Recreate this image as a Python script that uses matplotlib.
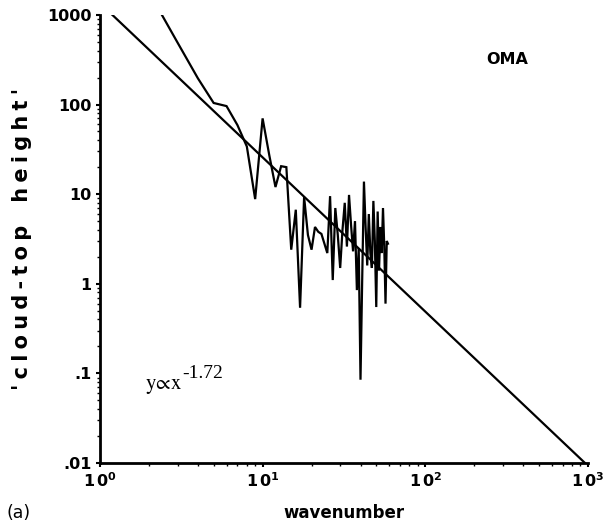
import numpy as np
import matplotlib
matplotlib.use("Agg")
import matplotlib.pyplot as plt
from matplotlib.ticker import FixedLocator, FixedFormatter, LogLocator, NullFormatter

plt.rcParams['font.family'] = ['DejaVu Sans']
plt.rcParams['mathtext.fontset'] = 'stix'

# spectrum of cloud-top height versus wavenumber
wavenumber = list(range(2, 60))
height = [1800, 490, 196, 104, 96, 59, 34, 8.8, 70, 27,
          12, 20.5, 20, 2.4, 6.7, 0.54, 9.3, 3.5, 2.4, 4.3,
          3.8, 3.6, 2.8, 2.2, 9.5, 1.1, 7, 3.5, 1.5, 4,
          8, 2.6, 9.8, 4.5, 2.3, 5, 0.85, 2.5, 0.085, 1.2,
          13.8, 4.3, 1.6, 6, 2.2, 1.5, 8.4, 3, 0.55, 6.4,
          1.4, 4.3, 2.2, 7, 2.6, 0.6, 3, 2.8]

# power-law fit y = C * x^slope
fit_coef = 1350.0
fit_slope = -1.72

x_ticks = [1, 10, 100, 1000]
x_tick_labels = [r'$\mathregular{1\,0^{0}}$', r'$\mathregular{1\,0^{1}}$',
                 r'$\mathregular{1\,0^{2}}$', r'$\mathregular{1\,0^{3}}$']
y_ticks = [0.01, 0.1, 1, 10, 100, 1000]
y_tick_labels = ['.01', '.1', '1', '10', '100', '1000']

fig = plt.figure(figsize=(6.06, 5.31), dpi=100)
ax = fig.add_axes([0.165, 0.128, 0.805, 0.844])

ax.plot(wavenumber, height, color='black', lw=1.6, solid_joinstyle='miter')
xf = np.logspace(0, 3, 200)
ax.plot(xf, fit_coef * xf ** fit_slope, color='black', lw=1.6)

ax.set_xscale('log')
ax.set_yscale('log')
ax.set_xlim(1, 1000)
ax.set_ylim(0.01, 1000)

ax.xaxis.set_major_locator(FixedLocator(x_ticks))
ax.xaxis.set_major_formatter(FixedFormatter(x_tick_labels))
ax.yaxis.set_major_locator(FixedLocator(y_ticks))
ax.yaxis.set_major_formatter(FixedFormatter(y_tick_labels))
ax.xaxis.set_minor_locator(LogLocator(base=10, subs=np.arange(2, 10)))
ax.yaxis.set_minor_locator(LogLocator(base=10, subs=np.arange(2, 10)))
ax.xaxis.set_minor_formatter(NullFormatter())
ax.yaxis.set_minor_formatter(NullFormatter())

for lab in ax.get_xticklabels() + ax.get_yticklabels():
    lab.set_fontweight('bold')
    lab.set_fontsize(11.5)

ax.tick_params(which='major', length=3, width=1.5, direction='out', pad=3)
ax.tick_params(which='minor', length=2, width=1, direction='out')

for side in ('top', 'right'):
    ax.spines[side].set_visible(False)
for side in ('left', 'bottom'):
    ax.spines[side].set_linewidth(2)

ax.set_xlabel('wavenumber', fontsize=12, fontweight='bold', labelpad=10)

# letter-spaced axis title
gap = '\u2005'
ylabel = gap.join("'cloud-top") + ' ' + gap * 3 + gap.join("height'")
ax.set_ylabel(ylabel, fontsize=15, fontweight='bold', labelpad=11)

ax.text(0.835, 0.90, 'OMA', transform=ax.transAxes, fontsize=11.5,
        fontweight='bold', ha='center', va='center')

# power-law annotation: base text plus a near full-size exponent
ax.text(0.092, 0.172, r'$\mathrm{y\!\propto\! x}$', transform=ax.transAxes,
        fontsize=15, ha='left', va='center')
ax.text(0.169, 0.199, '-1.72', transform=ax.transAxes,
        family=['Liberation Serif', 'DejaVu Serif'],
        fontsize=14, ha='left', va='center')
fig.text(0.01, 0.033, '(a)', fontsize=12.5, ha='left', va='center')

fig.savefig('out.png', dpi=100)
